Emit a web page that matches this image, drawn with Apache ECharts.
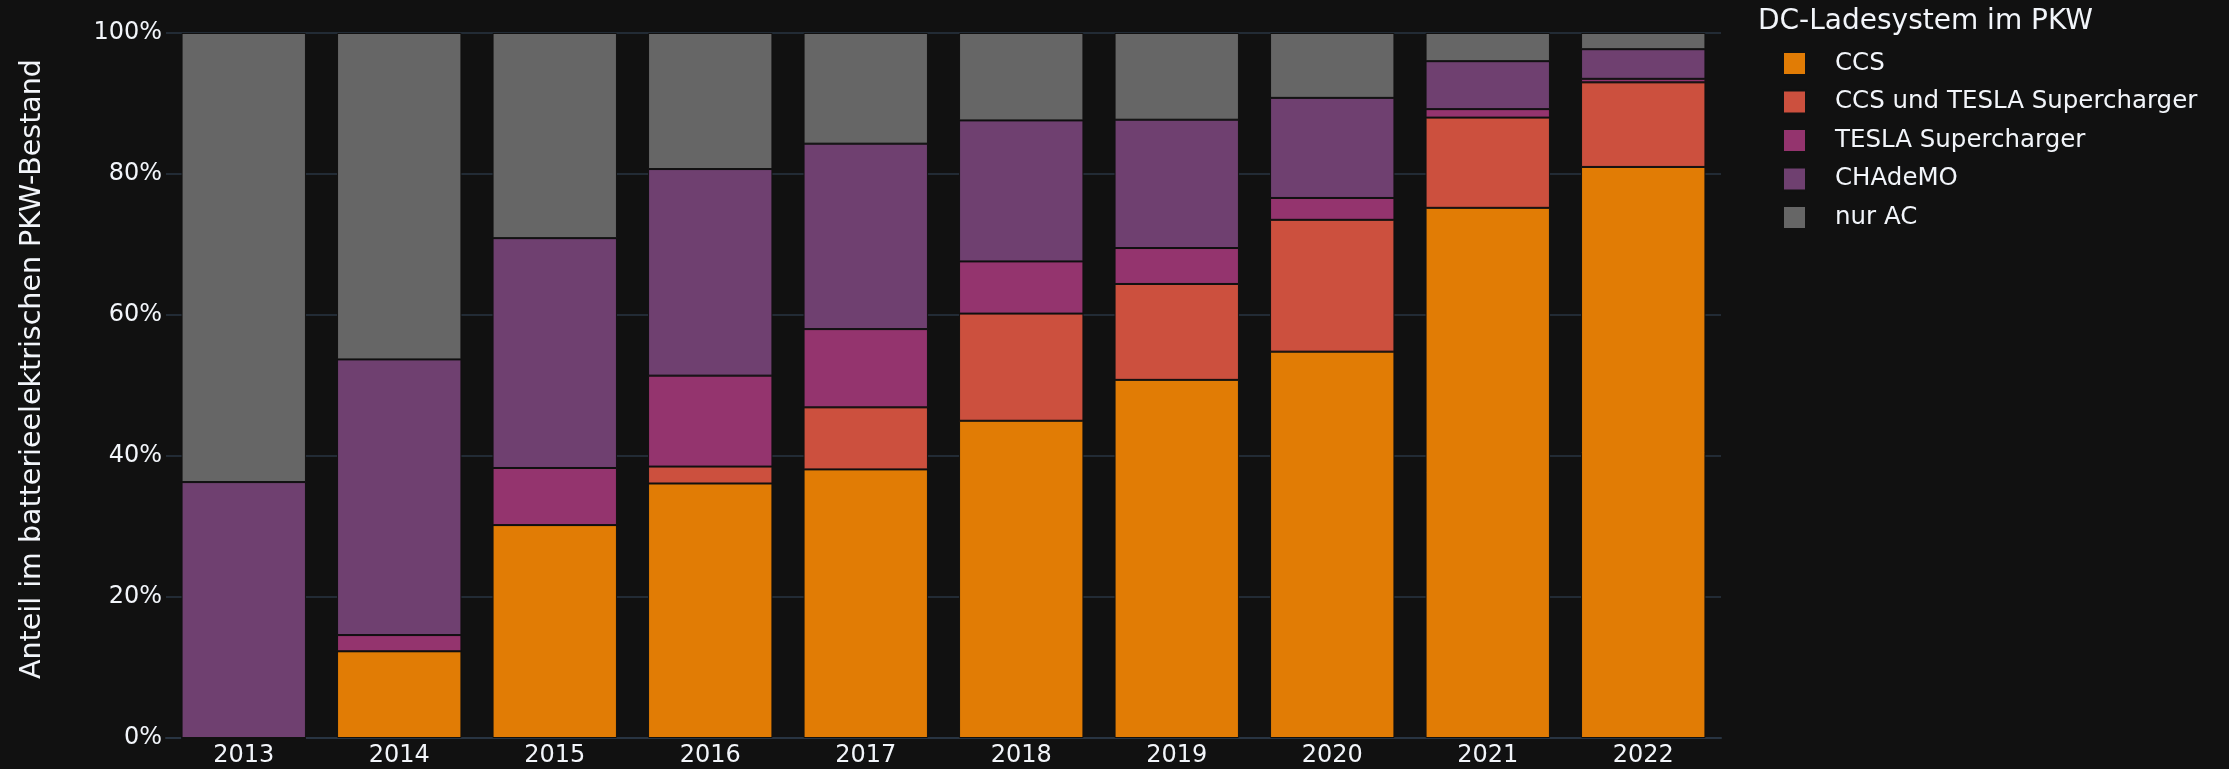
<!DOCTYPE html>
<html>
<head>
<meta charset="utf-8">
<script src="https://cdn.jsdelivr.net/npm/echarts@6/dist/echarts.min.js"></script>
<style>
  html, body { margin: 0; padding: 0; background: #111111; }
  #main { width: 2229px; height: 769px; }
</style>
</head>
<body>
<div id="main"></div>
<script>
var years = ['2013', '2014', '2015', '2016', '2017', '2018', '2019', '2020', '2021', '2022'];
var seriesNames = ['CCS', 'CCS und TESLA Supercharger', 'TESLA Supercharger', 'CHAdeMO', 'nur AC'];

// Anteil in Prozent, von unten nach oben gestapelt
var ccs      = [0, 12.3, 30.2, 36.1, 38.1, 45.0, 50.8, 54.8, 75.2, 81.0];
var ccsTesla = [0, 0, 0, 2.4, 8.8, 15.2, 13.6, 18.7, 12.8, 12.0];
var tesla    = [0, 2.3, 8.1, 12.9, 11.1, 7.4, 5.1, 3.1, 1.2, 0.5];
var chademo  = [36.3, 39.1, 32.6, 29.3, 26.3, 20.0, 18.2, 14.2, 6.8, 4.2];
var nurAC    = [63.7, 46.3, 29.1, 19.3, 15.7, 12.4, 12.3, 9.2, 4.0, 2.3];

var colors = ['rgb(225,124,5)', 'rgb(204,80,62)', 'rgb(148,52,110)', 'rgb(111,64,112)', 'rgb(102,102,102)'];
var values = [ccs, ccsTesla, tesla, chademo, nurAC];

var myChart = echarts.init(document.getElementById('main'));

var font = 'DejaVu Sans';
var textColor = '#f2f5fa';

var option = {
    backgroundColor: '#111111',
    animation: false,
    color: colors,
    grid: {
        left: 166,
        right: 508,
        top: 33,
        bottom: 31
    },
    legend: {
        orient: 'vertical',
        left: 1782,
        top: 51,
        padding: 0,
        itemWidth: 23,
        itemHeight: 23,
        itemGap: 13.5,
        icon: 'rect',
        data: seriesNames,
        textStyle: {
            color: textColor,
            fontFamily: font,
            fontSize: 24.5,
            lineHeight: 23,
            padding: [0, 0, 0, 24]
        }
    },
    graphic: [
        {
            type: 'text',
            left: 1758,
            top: 8,
            style: {
                text: 'DC-Ladesystem im PKW',
                fill: textColor,
                font: '28px "DejaVu Sans"'
            }
        },
        {
            type: 'text',
            x: 33,
            y: 369,
            rotation: Math.PI / 2,
            style: {
                text: 'Anteil im batterieelektrischen PKW-Bestand',
                fill: textColor,
                font: '28.5px "DejaVu Sans"',
                align: 'center',
                verticalAlign: 'middle'
            }
        }
    ],
    xAxis: {
        type: 'category',
        data: years,
        axisLine: { show: true, lineStyle: { color: '#283442', width: 2 } },
        axisTick: { show: false },
        axisLabel: {
            color: textColor,
            fontFamily: font,
            fontSize: 24,
            margin: 6
        }
    },
    yAxis: {
        type: 'value',
        min: 0,
        max: 100,
        interval: 20,
        axisLine: { show: false },
        axisTick: { show: false },
        splitLine: { lineStyle: { color: '#283442', width: 1.5 } },
        axisLabel: {
            color: textColor,
            fontFamily: font,
            fontSize: 24,
            margin: 4,
            formatter: '{value}%'
        }
    },
    series: seriesNames.map(function (name, i) {
        return {
            name: name,
            type: 'bar',
            stack: 'total',
            barWidth: '80%',
            data: values[i],
            itemStyle: {
                color: colors[i],
                borderColor: '#111111',
                borderWidth: 1
            }
        };
    })
};

myChart.setOption(option);
</script>
</body>
</html>
